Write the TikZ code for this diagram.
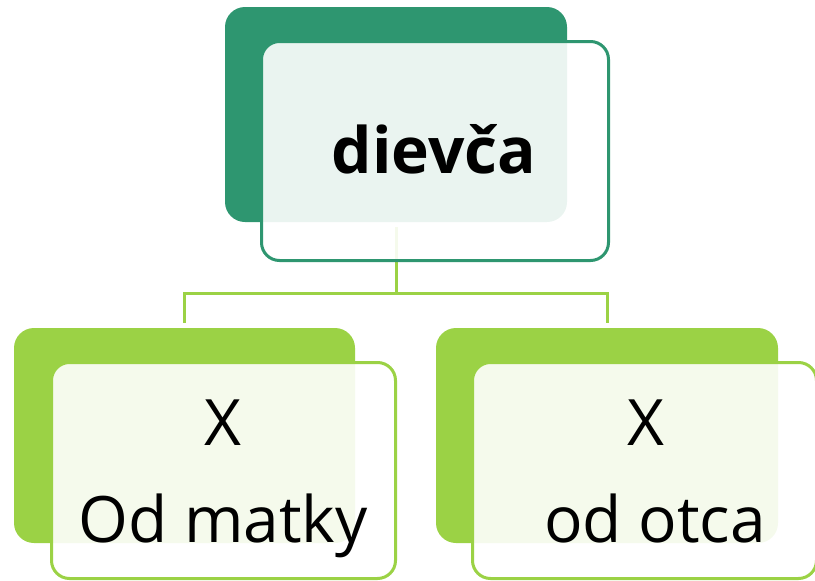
\documentclass[tikz,border=0pt]{standalone}
\usepackage{fontspec}
\setmainfont{Open Sans}
\definecolor{dkgreen}{HTML}{2E9670}
\definecolor{ltgreen}{HTML}{9BD245}
\tikzset{
  backbox/.style={rounded corners=20pt, inner sep=0pt, draw=none},
  frontbox/.style={rounded corners=18pt, inner sep=0pt, line width=3pt, fill=white, fill opacity=0.9},
  conn/.style={draw=ltgreen, line width=3pt},
  lbl/.style={anchor=base, inner sep=0pt, font=\fontsize{64}{70}\selectfont},
}
\begin{document}
\begin{tikzpicture}[x=1pt,y=-1pt]
\useasboundingbox (0,0) rectangle (815,581);
% back boxes
\node[backbox, fill=dkgreen, minimum width=342pt, minimum height=215pt] (topback) at (396,114.5) {};
\node[backbox, fill=ltgreen, minimum width=341pt, minimum height=215pt] (lback) at (184.5,435.5) {};
\node[backbox, fill=ltgreen, minimum width=342pt, minimum height=215pt] (rback) at (607,435.5) {};
% connectors
\draw[conn] ([yshift=-5pt]topback.south) -- ++(0,66) coordinate (bus)
  -| ([yshift=5pt]lback.north);
\draw[conn] (bus) -| ([yshift=5pt]rback.north);
% front boxes
\node[frontbox, draw=dkgreen, minimum width=347pt, minimum height=219pt] (topfront) at (435,151) {};
\node[frontbox, draw=ltgreen, minimum width=344pt, minimum height=216pt] (lfront) at (223.5,470.5) {};
\node[frontbox, draw=ltgreen, minimum width=344pt, minimum height=216pt] (rfront) at (644.5,470.5) {};
% labels
\node[lbl, font=\fontsize{64}{70}\selectfont\bfseries] (t1) at (434,173) {dievča};
\node[lbl] (lx) at (223,445) {X};
\node[lbl] (lt) at (223,542) {Od matky};
\node[lbl] (rx) at (646,445) {X};
\node[lbl] (rt) at (655,542) {od otca};
\end{tikzpicture}
\end{document}
